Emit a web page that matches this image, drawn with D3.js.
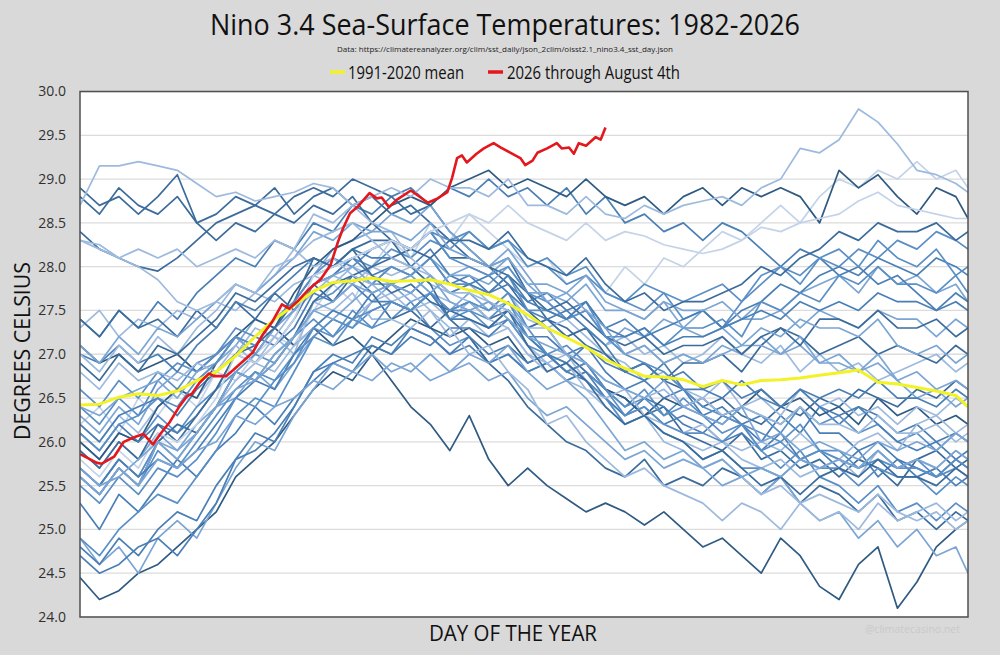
<!DOCTYPE html>
<html><head><meta charset="utf-8">
<script src="https://cdn.jsdelivr.net/npm/d3@7"></script>
<style>html,body{margin:0;padding:0;background:#d9d9d9;}svg{display:block;}</style>
</head><body>
<svg id="chart" width="1000" height="655"></svg>
<script>
// ---------------- DATA ----------------
const titleText = "Nino 3.4 Sea-Surface Temperatures: 1982-2026";
const subtitleText = "Data: https://climatereanalyzer.org/clim/sst_daily/json_2clim/oisst2.1_nino3.4_sst_day.json";
const legendLabels = ["1991-2020 mean", "2026 through August 4th"];
const yTicks = [24.0, 24.5, 25.0, 25.5, 26.0, 26.5, 27.0, 27.5, 28.0, 28.5, 29.0, 29.5, 30.0];

// sample days (day of year) for the historical years
const days = [1,9,17,25,33,41,49,57,65,73,81,89,97,105,113,121,129,137,145,153,161,169,177,185,193,201,209,217,225,233,241,249,257,265,273,281,289,297,305,313,321,329,337,345,353,361,366];

const years = [1982,1983,1984,1985,1986,1987,1988,1989,1990,1991,1992,1993,1994,1995,1996,1997,1998,1999,2000,2001,2002,2003,2004,2005,2006,2007,2008,2009,2010,2011,2012,2013,2014,2015,2016,2017,2018,2019,2020,2021,2022,2023,2024,2025];

const yearValues = [
/*1982*/[26.2,26.4,26.1,26.5, 26.3,26.6,26.4,26.8, 26.7,27.0,27.2,27.1, 27.5,27.8,27.6,28.0, 28.3,28.1,28.5,28.3, 28.6,28.4,28.2,28.0, 28.1,27.8,27.9,27.7, 28.0,27.8,28.1,28.0, 28.2,28.4,28.3, 28.5,28.7,28.5,28.8, 29.0,28.9,29.1,29.0, 29.2,29.0,29.1,28.9],
/*1983*/[28.8,28.6,28.9,28.7, 28.6,28.8,28.5,28.6, 28.8,28.7,28.9,28.6, 28.8,28.9,28.7,28.8, 28.6,28.7,28.5,28.3, 28.1,28.0,27.8,27.5, 27.3,27.0,26.8,26.6, 26.5,26.3,26.4,26.1, 26.0,25.9,26.1, 25.8,25.9,25.7,25.8, 25.6,25.8,25.7,25.5, 25.8,25.9,25.7,25.8],
/*1984*/[26.0,25.8,26.1,26.0, 26.3,26.1,26.4,26.6, 26.8,26.7,27.0,27.2, 27.4,27.2,27.5,27.3, 27.4,27.6,27.3,27.1, 27.2,26.9,27.0,26.8, 26.9,26.7,26.8,26.6, 26.4,26.6,26.3,26.5, 26.3,26.1,26.2, 25.9,25.7,25.9,25.6, 25.5,25.3,25.5,25.2, 25.3,25.1,25.3,25.2],
/*1985*/[25.3,25.0,25.4,25.2, 25.5,25.8,25.6,25.9, 26.1,26.4,26.2,26.5, 26.7,26.9,26.8,27.1, 27.0,27.3,27.2,27.0, 27.1,26.9,27.0,26.8, 26.9,26.7,26.8,26.5, 26.3,26.5,26.4,26.2, 26.1,26.3,26.2, 26.0,26.3,26.1,26.4, 26.2,26.4,26.3,26.1, 26.2,26.0,26.1,26.0],
/*1986*/[25.9,25.7,26.0,25.8, 26.1,25.9,26.2,26.4, 26.5,26.8,26.6,26.9, 27.2,27.4,27.3,27.6, 27.8,27.6,27.7,27.5, 27.7,27.5,27.6,27.3, 27.4,27.2,27.3,27.1, 27.3,27.2,27.4,27.3, 27.5,27.3,27.4, 27.6,27.5,27.7,27.8, 27.9,27.7,28.0,27.8, 27.9,27.7,27.8,27.6],
/*1987*/[27.4,27.2,27.5,27.3, 27.6,27.4,27.7,27.9, 28.1,28.0,28.3,28.2, 28.5,28.4,28.7,28.6, 28.8,28.9,28.7,28.9, 28.8,29.0,28.8,28.9, 28.7,28.9,28.6,28.8, 28.5,28.6,28.4,28.5, 28.3,28.5,28.4, 28.2,28.0,28.2,28.1, 27.9,28.0,27.8,27.9, 27.7,27.5,27.6,27.5],
/*1988*/[27.1,26.9,27.0,26.8, 26.9,27.0,26.8,27.0, 27.2,27.0,27.3,27.1, 27.3,27.1,27.2,27.0, 26.7,26.4,26.2,25.9, 26.3,25.8,25.5,25.7, 25.5,25.35,25.2,25.3, 25.2,25.05,25.2,25.0, 24.8,24.9,24.7, 24.5,24.9,24.7,24.35, 24.2,24.6,24.8,24.1, 24.4,24.8,25.0,25.1],
/*1989*/[24.45,24.2,24.3,24.5, 24.6,24.8,25.0,25.2, 25.6,25.8,26.0,26.3, 26.6,26.8,26.7,27.0, 27.2,27.4,27.3,27.2, 27.3,27.1,27.2,26.9, 27.0,26.8,26.9,26.6, 26.5,26.3,26.5,26.4, 26.5,26.3,26.4, 26.6,26.4,26.5,26.3, 26.4,26.2,26.5,26.3, 26.4,26.2,26.3,26.2],
/*1990*/[26.2,26.0,26.3,26.1, 26.4,26.6,26.5,26.8, 27.0,27.3,27.2,27.5, 27.7,27.9,27.8,28.0, 27.9,28.0,27.8,27.7, 27.8,27.6,27.5,27.3, 27.4,27.2,27.3,27.1, 27.2,27.0,27.1,26.9, 27.0,27.2,27.0, 26.9,27.1,26.8,27.0, 26.8,26.9,26.7,26.8, 26.9,27.0,26.8,26.9],
/*1991*/[26.6,26.4,26.7,26.5, 26.8,26.6,26.9,27.0, 27.2,27.1,27.3,27.5, 27.8,27.9,28.1,28.0, 28.2,28.1,28.3,28.2, 28.4,28.2,28.3,28.1, 28.0,27.8,27.9,27.7, 27.6,27.5,27.7,27.4, 27.5,27.3,27.6, 27.8,28.0,27.9,28.1, 28.0,28.2,28.1,28.3, 28.2,28.4,28.3,28.2],
/*1992*/[28.4,28.2,28.1,28.0, 27.95,28.1,28.3,28.5, 28.6,28.7,28.6,28.8, 28.9,28.8,29.0,28.9, 28.8,28.6,28.7,28.4, 28.2,28.0,28.1,27.7, 27.4,27.3,27.1,27.0, 26.8,26.9,26.7,26.6, 26.4,26.5,26.3, 26.2,26.4,26.3,26.5, 26.4,26.6,26.5,26.4, 26.6,26.5,26.7,26.6],
/*1993*/[26.3,26.1,26.4,26.2, 26.6,26.8,26.7,26.9, 27.1,27.4,27.3,27.6, 27.9,28.2,28.3,28.4, 28.6,28.5,28.7,28.4, 28.2,28.0,28.1,27.8, 27.6,27.4,27.5,27.2, 27.0,27.1,26.9,27.0, 26.9,27.1,27.0, 27.2,27.0,27.1,26.9, 27.0,26.8,26.9,26.7, 26.8,26.6,26.7,26.6],
/*1994*/[26.2,26.0,26.3,26.4, 26.5,26.3,26.6,26.8, 27.0,27.2,27.1,27.4, 27.8,27.9,28.1,27.9, 28.0,27.9,28.1,27.8, 27.9,27.7,27.8,27.6, 27.7,27.5,27.6,27.3, 27.4,27.2,27.3,27.4, 27.5,27.3,27.5, 27.6,27.8,27.7,27.9, 28.0,27.9,28.1,28.0, 27.9,28.1,28.0,27.9],
/*1995*/[27.3,27.5,27.2,27.4, 27.3,27.5,27.4,27.6, 27.5,27.7,27.6,27.8, 27.9,27.8,28.0,27.9, 27.8,27.9,27.7,27.6, 27.5,27.6,27.4,27.1, 26.9,27.0,26.7,26.5, 26.2,26.3,26.1,26.0, 25.9,26.0,25.8, 25.7,25.8,25.6,25.7, 25.8,25.6,25.9,25.7, 25.8,25.7,25.9,25.8],
/*1996*/[25.6,25.4,25.7,25.5, 25.9,25.7,26.0,26.3, 26.6,26.8,26.7,27.0, 27.2,27.4,27.3,27.5, 27.6,27.5,27.7,27.4, 27.5,27.3,27.4,27.1, 27.0,26.8,26.9,26.6, 26.4,26.5,26.3,26.4, 26.3,26.2,26.4, 26.3,26.1,26.4,26.2, 26.3,26.1,26.2,26.0, 26.1,25.9,26.1,26.0],
/*1997*/[26.0,25.8,26.1,26.0, 26.4,26.6,26.5,26.9, 27.2,27.4,27.3,27.7, 28.0,28.2,28.3,28.5, 28.7,28.8,28.7,28.9, 29.0,29.1,28.9,29.0, 28.9,28.8,29.0,28.8, 28.7,28.8,28.6,28.8, 28.9,28.7,28.9, 28.8,28.9,28.8,28.5, 29.1,28.9,29.05,28.8, 28.6,28.9,28.8,28.55],
/*1998*/[28.9,28.7,28.8,28.6, 28.8,29.05,28.5,28.3, 28.5,28.4,28.6,28.5, 28.7,28.6,28.8,28.5, 28.3,28.0,27.8,27.4, 27.2,26.9,26.7,26.4, 26.2,26.0,25.9,25.7, 25.6,25.8,25.5,25.6, 25.5,25.7,25.6, 25.4,25.6,25.3,25.5, 25.4,25.2,25.4,25.1, 25.2,25.0,25.2,25.1],
/*1999*/[24.9,24.6,24.8,24.5, 24.9,25.1,24.9,25.3, 25.7,26.0,25.9,26.3, 26.6,26.9,26.8,27.0, 26.8,26.9,26.7,26.8, 26.9,26.7,26.8,26.5, 26.3,26.4,26.2,26.0, 25.8,25.9,25.7,25.8, 25.7,25.5,25.6, 25.4,25.6,25.3,25.1, 25.2,24.9,25.1,24.8, 25.0,24.7,24.8,24.5],
/*2000*/[24.8,24.6,24.9,24.7, 25.0,25.2,25.1,25.5, 25.8,26.1,26.0,26.4, 26.8,27.0,26.9,27.2, 27.1,27.3,27.2,27.0, 27.2,27.0,27.1,26.9, 27.0,26.8,26.7,26.5, 26.3,26.4,26.2,26.3, 26.2,26.0,26.1, 25.9,26.1,25.8,25.9, 25.7,25.9,25.6,25.8, 25.7,25.6,25.8,25.7],
/*2001*/[25.7,25.5,25.8,25.6, 26.0,26.2,26.1,26.4, 26.7,26.9,26.8,27.1, 27.3,27.5,27.4,27.6, 27.7,27.5,27.6,27.4, 27.6,27.5,27.7,27.4, 27.3,27.4,27.2,27.0, 26.9,26.7,26.8,26.6, 26.5,26.7,26.4, 26.5,26.3,26.6,26.4, 26.5,26.3,26.4,26.2, 26.4,26.3,26.5,26.4],
/*2002*/[26.4,26.2,26.5,26.3, 26.7,26.9,26.8,27.0, 27.3,27.2,27.4,27.6, 27.9,28.1,28.0,28.2, 28.3,28.2,28.4,28.3, 28.4,28.2,28.3,28.0, 28.1,27.9,28.0,27.7, 27.6,27.8,27.7,27.6, 27.7,27.8,27.6, 27.9,28.0,27.8,28.1, 28.2,28.0,28.3,28.1, 28.0,28.2,27.9,28.0],
/*2003*/[27.4,27.2,27.5,27.3, 27.4,27.2,27.5,27.3, 27.6,27.4,27.7,27.5, 27.8,27.6,27.9,27.7, 27.4,27.5,27.3,27.5, 27.6,27.4,27.5,27.3, 27.4,27.2,27.3,27.0, 26.8,26.9,26.7,26.9, 26.9,27.0,26.8, 27.1,27.3,27.2,27.0, 27.1,27.2,27.0,27.1, 27.0,26.9,27.1,27.0],
/*2004*/[26.4,26.3,26.5,26.6, 26.7,26.5,26.8,26.9, 27.2,27.0,27.3,27.5, 27.8,27.9,28.0,27.8, 28.0,27.9,28.1,27.9, 27.9,27.8,28.0,27.7, 27.7,27.6,27.8,27.5, 27.5,27.4,27.6,27.5, 27.5,27.6,27.4, 27.4,27.5,27.3,27.5, 27.4,27.3,27.5,27.4, 27.4,27.2,27.4,27.3],
/*2005*/[27.0,26.9,27.1,26.9, 27.0,26.8,27.1,27.3, 27.6,27.5,27.7,27.9, 28.1,28.0,28.2,28.1, 28.1,28.0,28.2,27.9, 27.8,27.9,27.7,27.5, 27.4,27.5,27.3,27.1, 26.8,26.9,26.7,26.8, 26.6,26.7,26.5, 26.6,26.4,26.6,26.4, 26.3,26.4,26.2,26.0, 25.9,26.0,25.8,25.9],
/*2006*/[25.7,25.5,25.8,25.6, 26.0,25.8,26.1,26.4, 26.8,27.0,26.9,27.2, 27.6,27.7,27.9,27.8, 28.0,27.9,28.1,27.8, 27.8,27.7,27.9,27.5, 27.5,27.4,27.6,27.2, 27.2,27.3,27.1,27.3, 27.3,27.4,27.2, 27.6,27.5,27.7,27.6, 27.9,27.8,28.0,27.8, 27.8,27.7,27.9,27.7],
/*2007*/[26.8,26.6,26.9,26.7, 26.8,26.7,26.9,26.8, 27.1,26.9,27.2,27.0, 27.6,27.5,27.7,27.4, 27.4,27.3,27.5,27.2, 27.4,27.2,27.3,27.0, 26.8,26.9,26.6,26.4, 26.2,26.3,26.0,25.9, 25.7,25.8,25.6, 25.4,25.5,25.3,25.4, 25.3,25.2,25.4,25.2, 25.1,25.2,25.0,25.1],
/*2008*/[24.7,24.5,24.6,24.8, 24.9,24.7,25.0,25.3, 25.8,25.9,26.1,26.4, 26.8,26.9,27.0,27.1, 27.0,27.2,27.1,27.3, 27.3,27.2,27.4,27.2, 27.2,27.0,27.1,26.9, 26.8,26.7,26.9,26.6, 26.3,26.4,26.2, 26.3,26.2,26.4,26.1, 26.1,25.9,26.0,25.8, 25.6,25.7,25.5,25.6],
/*2009*/[25.6,25.4,25.7,25.5, 26.0,26.2,26.1,26.4, 26.8,26.7,26.9,27.2, 27.6,27.8,27.9,28.0, 28.1,28.2,28.1,28.3, 28.3,28.2,28.4,28.1, 28.0,27.9,28.1,27.8, 27.6,27.7,27.5,27.6, 27.6,27.7,27.8, 28.0,27.9,28.1,28.2, 28.4,28.3,28.5,28.4, 28.4,28.5,28.3,28.4],
/*2010*/[28.3,28.2,28.1,28.2, 28.1,28.2,28.0,28.1, 28.2,28.1,28.3,28.2, 28.0,28.1,27.9,27.8, 27.6,27.7,27.5,27.3, 27.0,27.1,26.8,26.6, 26.2,26.3,26.0,25.8, 25.6,25.7,25.5,25.4, 25.3,25.1,25.3, 25.2,25.0,25.3,25.1, 25.2,25.0,25.3,25.1, 25.2,25.3,25.1,25.2],
/*2011*/[24.9,24.7,25.0,25.2, 25.4,25.3,25.6,25.9, 26.3,26.5,26.4,26.8, 27.2,27.1,27.4,27.3, 27.6,27.5,27.7,27.5, 27.5,27.4,27.6,27.2, 27.0,26.9,26.7,26.5, 26.2,26.3,26.1,26.0, 25.8,25.9,25.7, 25.7,25.6,25.8,25.7, 25.7,25.5,25.7,25.6, 25.6,25.4,25.6,25.5],
/*2012*/[25.6,25.4,25.7,25.5, 26.0,25.8,26.1,26.4, 26.8,26.7,27.0,27.2, 27.5,27.4,27.6,27.8, 27.8,27.9,27.7,27.9, 28.0,27.9,28.1,27.8, 27.8,27.7,27.9,27.6, 27.5,27.4,27.6,27.3, 27.2,27.3,27.1, 27.1,27.0,27.2,26.9, 26.9,26.8,27.0,26.7, 26.5,26.6,26.4,26.5],
/*2013*/[26.1,25.9,26.2,26.0, 26.2,26.1,26.3,26.6, 27.0,26.9,27.1,27.3, 27.7,27.6,27.8,27.6, 27.6,27.5,27.7,27.4, 27.4,27.3,27.5,27.2, 27.0,26.9,27.1,26.8, 26.6,26.7,26.5,26.6, 26.6,26.5,26.7, 26.5,26.4,26.6,26.5, 26.6,26.5,26.7,26.5, 26.5,26.4,26.6,26.5],
/*2014*/[25.9,25.7,26.0,25.8, 26.2,26.0,26.3,26.6, 27.0,27.1,27.3,27.6, 28.1,28.0,28.2,28.3, 28.3,28.2,28.4,28.1, 28.1,28.0,27.9,27.7, 27.5,27.6,27.4,27.2, 27.1,27.2,27.0,27.1, 27.1,27.2,27.0, 27.2,27.3,27.1,27.4, 27.4,27.3,27.5,27.3, 27.3,27.4,27.2,27.3],
/*2015*/[27.0,26.8,27.1,26.9, 27.2,27.0,27.3,27.5, 27.8,27.7,27.9,28.2, 28.6,28.5,28.7,28.8, 28.9,28.8,29.0,28.9, 28.9,28.8,29.0,28.7, 28.7,28.6,28.8,28.6, 28.55,28.7,28.6,28.7, 28.75,28.8,28.7, 28.9,29.0,29.35,29.3, 29.45,29.8,29.65,29.4, 29.1,29.05,28.95,28.85],
/*2016*/[28.7,29.15,29.15,29.2, 29.15,29.1,28.95,28.8, 28.85,28.75,28.8,28.85, 28.95,28.9,28.7,28.5, 28.4,28.1,27.9,27.7, 27.6,27.4,27.3,27.0, 26.9,26.7,26.6,26.5, 26.6,26.3,26.2,26.1, 26.2,26.0,25.9, 26.0,25.9,26.1,25.9, 25.8,26.0,26.1,25.9, 26.2,26.3,26.1,26.2],
/*2017*/[26.1,25.9,26.2,26.3, 26.5,26.4,26.7,26.9, 27.2,27.1,27.4,27.6, 27.9,28.0,28.1,28.2, 28.3,28.2,28.4,28.1, 28.0,27.9,28.0,27.7, 27.6,27.4,27.5,27.2, 27.0,26.9,26.8,26.6, 26.4,26.3,26.2, 26.1,26.0,26.2,25.9, 25.9,25.7,25.8,25.7, 25.8,25.6,25.7,25.6],
/*2018*/[25.7,25.5,25.8,25.6, 25.8,25.7,25.9,26.2, 26.5,26.7,26.6,27.0, 27.3,27.5,27.4,27.7, 27.8,27.7,27.9,27.7, 27.8,27.7,27.9,27.6, 27.5,27.4,27.6,27.3, 27.2,27.3,27.1,27.2, 27.2,27.3,27.4, 27.5,27.4,27.6,27.5, 27.6,27.5,27.7,27.6, 27.6,27.5,27.7,27.6],
/*2019*/[27.1,26.9,27.2,27.0, 27.3,27.2,27.4,27.6, 27.8,27.7,27.9,28.1, 28.4,28.3,28.5,28.4, 28.4,28.3,28.5,28.2, 28.1,28.0,28.2,27.9, 27.6,27.7,27.5,27.3, 27.0,27.1,26.9,27.0, 26.9,27.0,27.1, 27.3,27.2,27.4,27.3, 27.3,27.2,27.4,27.1, 27.0,27.1,26.9,27.0],
/*2020*/[26.9,26.7,27.0,26.8, 27.1,27.0,27.2,27.4, 27.7,27.6,27.8,28.0, 28.1,28.0,28.2,27.9, 27.7,27.8,27.6,27.5, 27.4,27.3,27.5,27.1, 26.8,26.9,26.7,26.4, 26.2,26.3,26.1,26.0, 25.8,25.9,25.7, 25.5,25.6,25.4,25.6, 25.7,25.6,25.8,25.6, 25.6,25.5,25.7,25.6],
/*2021*/[25.5,25.3,25.6,25.4, 25.7,25.6,25.8,26.1, 26.5,26.4,26.7,26.9, 27.3,27.2,27.4,27.5, 27.6,27.5,27.7,27.5, 27.6,27.5,27.7,27.3, 27.0,27.1,26.9,26.6, 26.3,26.4,26.2,26.1, 26.1,26.0,26.2, 25.9,26.0,25.8,25.9, 25.8,25.7,25.9,25.7, 25.7,25.6,25.8,25.7],
/*2022*/[25.6,25.4,25.7,25.5, 25.8,25.7,25.9,26.0, 26.3,26.2,26.4,26.5, 26.7,26.6,26.8,26.7, 26.9,26.8,27.0,26.8, 27.0,26.9,27.1,26.8, 26.6,26.7,26.5,26.2, 25.9,26.0,25.8,25.9, 25.7,25.8,25.6, 25.7,25.6,25.8,25.7, 25.8,25.7,25.9,25.7, 25.8,25.7,25.9,25.8],
/*2023*/[25.8,25.6,25.9,25.7, 26.1,26.0,26.2,26.5, 27.0,26.9,27.1,27.4, 27.9,28.0,28.1,28.2, 28.3,28.2,28.4,28.5, 28.6,28.5,28.7,28.5, 28.4,28.3,28.5,28.3, 28.4,28.35,28.25,28.2, 28.15,28.2,28.3, 28.45,28.4,28.5,28.55, 28.6,28.75,28.85,28.7, 28.65,28.6,28.55,28.55],
/*2024*/[28.3,28.25,28.1,28.0, 27.85,27.6,27.5,27.6, 27.8,27.7,28.0,28.1, 28.3,28.4,28.5,28.3, 28.1,28.0,27.9,27.7, 27.7,27.6,27.5,27.3, 27.3,27.0,26.9,26.7, 26.6,26.5,26.6,26.4, 26.5,26.3,26.4, 26.3,26.2,26.4,26.2, 26.2,26.1,26.3,26.1, 26.1,26.2,26.0,26.1],
/*2025*/[25.7,25.5,25.6,25.8, 26.0,25.9,26.1,26.4, 26.6,26.7,26.9,27.2, 27.5,27.6,27.8,27.7, 27.8,27.7,27.9,27.6, 27.5,27.6,27.4,27.2, 27.1,27.0,26.9,26.7, 26.6,26.5,26.7,26.4, 26.3,26.2,26.4, 26.0,26.1,25.9,26.0, 25.9,25.8,26.0,25.9, 26.0,25.9,26.1,26.0]
];

// 1991-2020 mean
const meanDays = [1,9,17,25,33,41,49,57,65,73,81,89,97,105,113,121,129,137,145,153,161,169,177,185,193,201,209,217,225,233,241,249,257,265,273,281,289,297,305,313,321,329,337,345,353,361,366];
const meanValues = [26.42,26.43,26.51,26.55,26.53,26.58,26.70,26.80,26.98,27.20,27.40,27.56,27.72,27.82,27.84,27.87,27.83,27.84,27.85,27.80,27.73,27.68,27.58,27.45,27.30,27.19,27.08,26.94,26.84,26.75,26.74,26.71,26.63,26.70,26.65,26.70,26.71,26.73,26.76,26.79,26.82,26.68,26.66,26.62,26.58,26.53,26.40];

// 2026 through August 4th
const currentDays = [1,8,10,15,19,23,27,31,34,38,42,45,47,50,54,56,61,64,72,76,80,84,87,91,95,100,104,107,109,112,115,120,123,125,128,131,137,140,144,148,152,154,156,158,160,164,167,171,174,178,182,184,187,189,193,197,199,202,204,206,209,213,215,217];
const currentValues = [25.86,25.76,25.75,25.83,26.00,26.05,26.09,25.97,26.09,26.23,26.41,26.52,26.55,26.67,26.78,26.75,26.75,26.82,27.02,27.22,27.37,27.57,27.52,27.62,27.74,27.86,28.02,28.28,28.43,28.61,28.68,28.84,28.78,28.79,28.68,28.76,28.87,28.81,28.73,28.78,28.85,29.02,29.24,29.27,29.19,29.29,29.35,29.41,29.36,29.30,29.24,29.16,29.21,29.30,29.35,29.41,29.35,29.36,29.29,29.41,29.38,29.48,29.45,29.59];

// ---------------- RENDER ----------------
const blues = ["#2f5a82","#3b6c9c","#4a7fb6","#5a8fc6","#7ba5d4","#9dbade","#c4d3e8"];
const yearShade = [6,1,3,2,4,2,0,0,5,3,1,4,2,5,3,0,1,4,2,5,3,1,4,2,3,5,2,1,5,3,4,2,1,5,5,3,2,4,1,3,4,6,5,4];

const svg = d3.select("#chart");
const W = 1000, H = 655;
const plot = {left: 80, right: 968, top: 91.5, bottom: 617};

svg.append("rect").attr("width", W).attr("height", H).attr("fill", "#d9d9d9");
svg.append("rect").attr("x", plot.left).attr("y", plot.top)
  .attr("width", plot.right - plot.left).attr("height", plot.bottom - plot.top)
  .attr("fill", "#ffffff");

const x = d3.scaleLinear().domain([1, 366]).range([plot.left, plot.right]);
const y = d3.scaleLinear().domain([24, 30]).range([plot.bottom, plot.top]);

// gridlines
svg.append("g").selectAll("line").data(yTicks).join("line")
  .attr("x1", plot.left).attr("x2", plot.right)
  .attr("y1", d => y(d)).attr("y2", d => y(d))
  .attr("stroke", "#dcdcdc").attr("stroke-width", 1.3);

// y axis
const yAxis = d3.axisLeft(y).tickValues(yTicks).tickFormat(d3.format(".1f")).tickSize(0).tickPadding(14);
const ga = svg.append("g").attr("transform", `translate(${plot.left},0)`).call(yAxis);
ga.select(".domain").remove();
ga.selectAll("text").attr("font-family", "'Open Sans', sans-serif").attr("font-size", 14).attr("fill", "#303030");

const clip = svg.append("clipPath").attr("id", "clip").append("rect")
  .attr("x", plot.left).attr("y", plot.top).attr("width", plot.right - plot.left).attr("height", plot.bottom - plot.top);

const gLines = svg.append("g").attr("clip-path", "url(#clip)");
const line = d3.line().x(d => x(d[0])).y(d => y(d[1]));

yearValues.forEach((vals, k) => {
  const pts = vals.map((v, i) => [days[i], v]).filter(p => p[0] !== undefined);
  gLines.append("path").datum(pts).attr("d", line)
    .attr("fill", "none").attr("stroke", blues[yearShade[k]])
    .attr("stroke-width", 1.7).attr("stroke-linejoin", "round");
});

gLines.append("path").datum(meanValues.map((v, i) => [meanDays[i], v])).attr("d", line)
  .attr("fill", "none").attr("stroke", "#f2f227").attr("stroke-width", 3).attr("stroke-linejoin", "round");

gLines.append("path").datum(currentValues.map((v, i) => [currentDays[i], v])).attr("d", line)
  .attr("fill", "none").attr("stroke", "#e3171c").attr("stroke-width", 2.6).attr("stroke-linejoin", "round");

// plot border
svg.append("rect").attr("x", plot.left).attr("y", plot.top)
  .attr("width", plot.right - plot.left).attr("height", plot.bottom - plot.top)
  .attr("fill", "none").attr("stroke", "#505050").attr("stroke-width", 1.5);

// titles
svg.append("text").attr("x", 505).attr("y", 35).attr("text-anchor", "middle")
  .attr("font-family", "'Liberation Sans Narrow','Open Sans',sans-serif").attr("font-size", 30).attr("fill", "#111")
  .attr("textLength", 590).attr("lengthAdjust", "spacingAndGlyphs").text(titleText);
svg.append("text").attr("x", 505).attr("y", 51.5).attr("text-anchor", "middle")
  .attr("font-family", "'Liberation Sans Narrow','Open Sans',sans-serif").attr("font-size", 8).attr("fill", "#222")
  .attr("textLength", 336).attr("lengthAdjust", "spacingAndGlyphs").text(subtitleText);

// legend
const legend = [
  {swatch: 330, text: 348, len: 116, color: "#f2f227"},
  {swatch: 488, text: 507, len: 173, color: "#e3171c"}
];
legend.forEach((l, i) => {
  svg.append("line").attr("x1", l.swatch).attr("x2", l.swatch + 15).attr("y1", 72).attr("y2", 72)
    .attr("stroke", l.color).attr("stroke-width", 3.5);
  svg.append("text").attr("x", l.text).attr("y", 78.5)
    .attr("font-family", "'Liberation Sans Narrow','Open Sans',sans-serif").attr("font-size", 18).attr("fill", "#111")
    .attr("textLength", l.len).attr("lengthAdjust", "spacingAndGlyphs").text(legendLabels[i]);
});

// axis titles
svg.append("text").attr("transform", "translate(30,351) rotate(-90)").attr("text-anchor", "middle")
  .attr("font-family", "'Open Sans',sans-serif").attr("font-size", 21).attr("fill", "#111")
  .attr("textLength", 178).attr("lengthAdjust", "spacingAndGlyphs").text("DEGREES CELSIUS");
svg.append("text").attr("x", 513).attr("y", 641).attr("text-anchor", "middle")
  .attr("font-family", "'Open Sans',sans-serif").attr("font-size", 21).attr("fill", "#111")
  .attr("textLength", 168).attr("lengthAdjust", "spacingAndGlyphs").text("DAY OF THE YEAR");

// watermark
svg.append("text").attr("x", 960).attr("y", 633).attr("text-anchor", "end")
  .attr("font-family", "'Open Sans',sans-serif").attr("font-size", 10.5).attr("fill", "#c9c9c9")
  .text("@climatecasino.net");
</script>
</body></html>
